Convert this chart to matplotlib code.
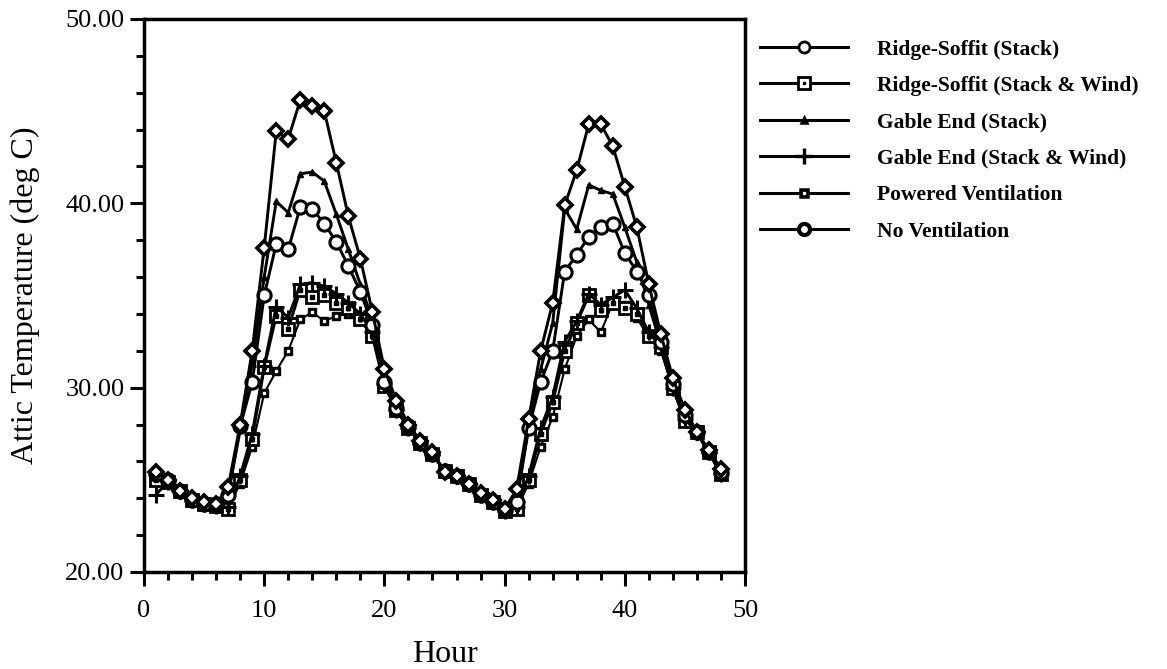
import matplotlib
matplotlib.use("Agg")
import matplotlib.pyplot as plt
from matplotlib.lines import Line2D
from matplotlib.legend_handler import HandlerTuple
from matplotlib.ticker import MultipleLocator, FormatStrFormatter

hours = list(range(1, 49))

no_vent = [25.4, 25.0, 24.4, 24.0, 23.8, 23.7, 24.6, 28.0, 32.0, 37.6, 43.9, 43.5,
           45.6, 45.3, 45.0, 42.2, 39.3, 37.0, 34.1, 31.0, 29.3, 28.0, 27.1, 26.5,
           25.4, 25.2, 24.8, 24.3, 23.9, 23.4, 24.5, 28.3, 32.0, 34.6, 39.9, 41.8,
           44.3, 44.3, 43.1, 40.9, 38.7, 35.6, 32.9, 30.5, 28.8, 27.6, 26.6, 25.6]

rs_stack = [25.3, 25.0, 24.4, 23.9, 23.7, 23.7, 24.2, 27.9, 30.3, 35.0, 37.8, 37.5,
            39.8, 39.7, 38.9, 37.9, 36.6, 35.2, 33.4, 30.3, 28.9, 27.9, 27.0, 26.4,
            25.5, 25.2, 24.8, 24.2, 23.8, 23.4, 23.8, 27.8, 30.3, 32.0, 36.3, 37.2,
            38.2, 38.7, 38.9, 37.3, 36.3, 35.0, 32.5, 30.2, 28.5, 27.6, 26.5, 25.4]

gable_stack = [25.2, 24.9, 24.4, 23.9, 23.7, 23.7, 24.2, 27.7, 31.3, 36.0, 40.1, 39.5,
               41.6, 41.7, 41.2, 39.4, 37.5, 35.6, 33.7, 30.5, 29.0, 27.9, 27.0, 26.4,
               25.5, 25.2, 24.8, 24.2, 23.8, 23.4, 24.0, 27.9, 31.0, 33.5, 39.7, 38.6,
               41.0, 40.7, 40.5, 38.7, 36.8, 34.5, 32.3, 30.1, 28.4, 27.5, 26.5, 25.3]

rs_stack_wind = [25.0, 24.9, 24.4, 23.9, 23.7, 23.6, 23.4, 25.0, 27.2, 31.1, 33.9, 33.2,
                 35.3, 34.9, 35.0, 34.6, 34.3, 33.7, 32.8, 30.1, 28.8, 27.8, 27.0, 26.4,
                 25.5, 25.2, 24.8, 24.2, 23.8, 23.3, 23.4, 25.0, 27.5, 29.2, 32.0, 33.5,
                 35.0, 34.2, 34.6, 34.3, 34.0, 32.8, 32.2, 30.0, 28.2, 27.6, 26.5, 25.3]

gable_stack_wind = [24.2, 24.9, 24.4, 23.9, 23.7, 23.6, 23.5, 25.2, 27.5, 31.2, 34.4, 33.8,
                    35.6, 35.7, 35.5, 35.1, 34.6, 34.0, 33.0, 30.2, 28.8, 27.8, 27.0, 26.4,
                    25.5, 25.2, 24.8, 24.2, 23.8, 23.3, 23.5, 25.2, 27.8, 29.5, 32.5, 33.6,
                    35.1, 34.5, 34.9, 35.3, 34.3, 33.0, 32.2, 30.0, 28.3, 27.6, 26.5, 25.3]

powered = [25.0, 24.9, 24.4, 23.9, 23.7, 23.6, 23.5, 24.8, 26.8, 29.7, 30.9, 32.0,
           33.7, 34.1, 33.6, 33.9, 34.0, 33.6, 33.0, 30.1, 28.8, 27.8, 27.0, 26.4,
           25.5, 25.2, 24.8, 24.2, 23.8, 23.3, 23.4, 24.8, 26.8, 28.4, 31.0, 32.8,
           33.7, 33.0, 34.6, 34.5, 33.8, 32.7, 32.0, 29.9, 28.2, 27.5, 26.5, 25.3]

labels = ["Ridge-Soffit (Stack)", "Ridge-Soffit (Stack & Wind)", "Gable End (Stack)",
          "Gable End (Stack & Wind)", "Powered Ventilation", "No Ventilation"]

plt.rcParams['font.family'] = ['Liberation Serif', 'DejaVu Serif']

fig = plt.figure(figsize=(11.67, 6.69), dpi=100)
ax = fig.add_axes([0.1234, 0.145, 0.6384 - 0.1234, 0.9716 - 0.145])

lw = 2.1
k = 'black'

# Powered ventilation: small black square with white dot
ax.plot(hours, powered, color=k, lw=1.5, marker='s', ms=6, mfc=k, mec=k, zorder=2)
ax.plot(hours, powered, ls='none', marker='s', ms=1.6, mfc='white', mec='white', zorder=2.1)
# Ridge-Soffit stack & wind: open square with dot
ax.plot(hours, rs_stack_wind, color=k, lw=lw, marker='s', ms=8.5, mfc='white', mec=k, mew=2, zorder=3)
ax.plot(hours, rs_stack_wind, ls='none', marker='s', ms=2.2, mfc=k, mec=k, zorder=3.1)
# Gable end stack & wind: plus
ax.plot(hours, gable_stack_wind, color=k, lw=lw, marker='+', ms=11, mew=2.2, zorder=3)
# Gable end stack: small filled triangle
ax.plot(hours, gable_stack, color=k, lw=lw, marker='^', ms=5, mfc=k, mec=k, zorder=4)
# Ridge-Soffit stack: open circle
ax.plot(hours, rs_stack, color=k, lw=lw, marker='o', ms=9.5, mfc='white', mec=k, mew=2.2, zorder=4)
# No ventilation: diamond with hollow center
ax.plot(hours, no_vent, color=k, lw=lw, marker='D', ms=7.5, mfc='white', mec=k, mew=2.6, zorder=5)

ax.set_xlim(0, 50)
ax.set_ylim(20, 50)
ax.xaxis.set_major_locator(MultipleLocator(10))
ax.xaxis.set_minor_locator(MultipleLocator(2))
ax.yaxis.set_major_locator(MultipleLocator(10))
ax.yaxis.set_minor_locator(MultipleLocator(2))
ax.yaxis.set_major_formatter(FormatStrFormatter('%.2f'))
ax.tick_params(which='major', direction='out', length=10, width=2.2, labelsize=19, color=k)
ax.tick_params(axis='y', which='major', pad=4)
ax.tick_params(axis='x', which='major', pad=10)
ax.tick_params(which='minor', direction='out', length=6, width=2.2, color=k)
for s in ax.spines.values():
    s.set_linewidth(2.5)
    s.set_color(k)

ax.set_xlabel("Hour", fontsize=23, labelpad=13)
ax.set_ylabel("Attic Temperature (deg C)", fontsize=23, labelpad=18)

def proxy(marker, ms, mfc, mew=1.8, lwv=2.2):
    return Line2D([], [], color=k, lw=lwv, marker=marker, ms=ms, mfc=mfc, mec=k, mew=mew)

h_rs = proxy('o', 8, 'white', 2)
h_rsw = (proxy('s', 8, 'white', 2), Line2D([], [], ls='none', marker='s', ms=2, mfc=k, mec=k))
h_gs = proxy('^', 5, k)
h_gsw = proxy('+', 12, k, 2.4)
h_pw = (proxy('s', 6, k), Line2D([], [], ls='none', marker='s', ms=1.6, mfc='white', mec='white'))
h_nv = proxy('o', 8, 'white', 3)

fig.legend([h_rs, h_rsw, h_gs, h_gsw, h_pw, h_nv], labels,
           handler_map={tuple: HandlerTuple(ndivide=1, pad=0)},
           loc='upper left', bbox_to_anchor=(0.651, 0.941), frameon=False,
           prop={'size': 15.5, 'weight': 'bold'}, handlelength=4.1, handletextpad=1.35,
           labelspacing=0.76, borderaxespad=0, borderpad=0)

fig.savefig("out.png", dpi=100)
